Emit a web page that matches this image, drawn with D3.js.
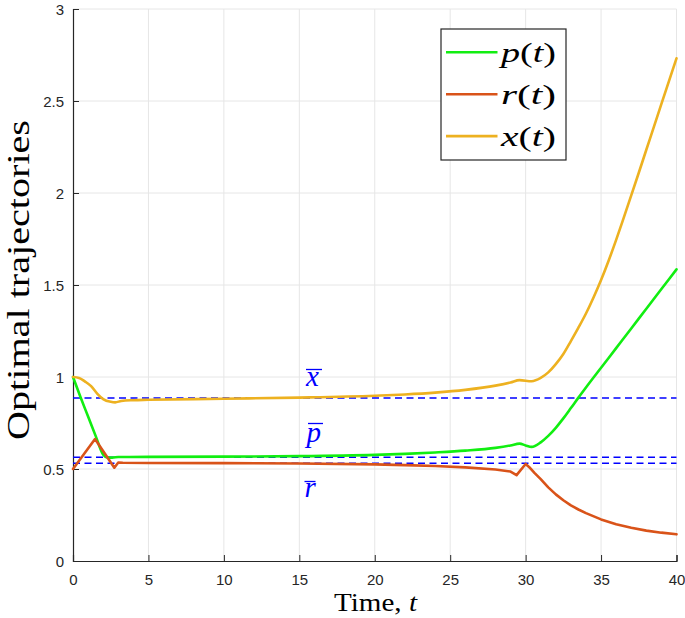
<!DOCTYPE html>
<html>
<head>
<meta charset="utf-8">
<script src="https://cdn.jsdelivr.net/npm/d3@7"></script>
<style>
  html, body { margin: 0; padding: 0; background: #fff; }
  svg { display: block; }
</style>
</head>
<body>
<svg id="chart" width="685" height="618"></svg>
<script>
// ---------- data ----------
const xTicks = [0, 5, 10, 15, 20, 25, 30, 35, 40];
const yTicks = [0, 0.5, 1, 1.5, 2, 2.5, 3];
const yTickLabels = ["0", "0.5", "1", "1.5", "2", "2.5", "3"];

const pT = [0, 0.5, 1, 1.5, 2, 2.3, 2.6, 3, 5, 10, 15, 20, 22, 24, 26, 28, 29, 29.6, 30, 30.4, 31, 31.5, 32, 32.5, 33, 33.5, 34, 35, 36, 37, 38, 39, 40];
const pV = [1.0, 0.89, 0.785, 0.68, 0.578, 0.562, 0.562, 0.565, 0.566, 0.567, 0.57, 0.577, 0.582, 0.59, 0.6, 0.615, 0.628, 0.638, 0.628, 0.62, 0.645, 0.68, 0.724, 0.775, 0.831, 0.888, 0.943, 1.05, 1.157, 1.264, 1.371, 1.478, 1.585];

const rT = [0, 1.46, 2.74, 3.0, 3.3, 5, 10, 15, 20, 22, 24, 26, 28, 29, 29.4, 30, 30.3, 30.6, 31, 31.5, 32, 32.5, 33, 33.5, 34, 35, 36, 37, 38, 39, 40];
const rV = [0.5, 0.663, 0.507, 0.535, 0.534, 0.533, 0.532, 0.53, 0.525, 0.521, 0.516, 0.509, 0.497, 0.486, 0.467, 0.527, 0.505, 0.478, 0.445, 0.40, 0.362, 0.33, 0.302, 0.28, 0.26, 0.226, 0.2, 0.181, 0.165, 0.154, 0.145];

const xT = [0, 0.4, 0.8, 1.2, 1.6, 2, 2.5, 2.8, 3.2, 4, 5, 10, 15, 20, 22, 24, 26, 28, 29, 29.6, 30.4, 31, 31.5, 32, 32.5, 33, 33.5, 34, 34.5, 35, 35.5, 36, 36.5, 37, 37.5, 38, 38.5, 39, 39.5, 40];
const xV = [1.0, 0.995, 0.975, 0.95, 0.91, 0.88, 0.865, 0.862, 0.87, 0.874, 0.876, 0.882, 0.888, 0.898, 0.905, 0.915, 0.93, 0.953, 0.97, 0.983, 0.977, 0.995, 1.025, 1.07, 1.125, 1.195, 1.268, 1.345, 1.432, 1.527, 1.632, 1.745, 1.865, 1.987, 2.11, 2.235, 2.359, 2.484, 2.608, 2.732];

const steadyNames = ["x", "p", "r"];
const steadyValues = [0.886, 0.564, 0.531];

const seriesNames = ["p", "r", "x"];
const seriesColors = ["#11ee11", "#D95319", "#EDB120"];

// ---------- layout ----------
const svg = d3.select("#chart");
const x = d3.scaleLinear().domain([0, 40]).range([73, 676.5]);
const y = d3.scaleLinear().domain([0, 3]).range([561, 9]);
const axisColor = "#262626";
const gridColor = "#e6e6e6";

// grid
svg.append("g").selectAll("line").data(xTicks.filter(d => d > 0)).join("line")
  .attr("x1", d => x(d)).attr("x2", d => x(d))
  .attr("y1", y(0)).attr("y2", y(3))
  .attr("stroke", gridColor).attr("stroke-width", 1);
svg.append("g").selectAll("line").data(yTicks.filter(d => d > 0)).join("line")
  .attr("x1", x(0)).attr("x2", x(40))
  .attr("y1", d => y(d)).attr("y2", d => y(d))
  .attr("stroke", gridColor).attr("stroke-width", 1);

// axes
const xAxis = d3.axisBottom(x).tickValues(xTicks).tickSize(-6).tickPadding(13).tickFormat(d3.format("d"));
const yAxis = d3.axisLeft(y).tickValues(yTicks).tickSize(-6).tickPadding(9).tickFormat((d, i) => yTickLabels[i]);

const gx = svg.append("g").attr("transform", `translate(0,${y(0)})`).call(xAxis);
const gy = svg.append("g").attr("transform", `translate(${x(0)},0)`).call(yAxis);
[gx, gy].forEach(g => {
  g.select(".domain").attr("stroke", axisColor).attr("stroke-width", 1.2);
  g.selectAll(".tick line").attr("stroke", axisColor).attr("stroke-width", 1);
  g.selectAll(".tick text").attr("fill", axisColor)
    .style("font-family", "'Liberation Sans', Arial, sans-serif").style("font-size", "15px");
});
gy.selectAll(".tick text").attr("dy", "0.35em");

// steady-state dashed lines
svg.append("g").selectAll("line").data(steadyValues).join("line")
  .attr("x1", x(0)).attr("x2", x(40))
  .attr("y1", d => y(d)).attr("y2", d => y(d))
  .attr("stroke", "#0000ff").attr("stroke-width", 1.5)
  .attr("stroke-dasharray", "7,4.5");

// series
const series = [
  { t: pT, v: pV, curve: d3.curveMonotoneX },
  { t: rT, v: rV, curve: d3.curveLinear },
  { t: xT, v: xV, curve: d3.curveMonotoneX }
];
series.forEach((s, i) => {
  const pts = s.t.map((t, j) => [t, s.v[j]]);
  svg.append("path").datum(pts)
    .attr("fill", "none").attr("stroke", seriesColors[i]).attr("stroke-width", 2.6)
    .attr("stroke-linejoin", "round").attr("stroke-linecap", "round")
    .attr("d", d3.line().x(d => x(d[0])).y(d => y(d[1])).curve(s.curve));
});

// bar labels
const serif = "'Liberation Serif', 'Times New Roman', serif";
const barLabels = [
  { name: "x", tx: 306, ty: 385.5, bx1: 306, bx2: 322, by: 369.5 },
  { name: "p", tx: 306.5, ty: 442, bx1: 308, bx2: 323, by: 423.5 },
  { name: "r", tx: 304.5, ty: 497, bx1: 304.5, bx2: 315.5, by: 481.5 }
];
barLabels.forEach(b => {
  svg.append("text").attr("x", b.tx).attr("y", b.ty)
    .attr("fill", "#0000ff").style("font-family", serif).style("font-style", "italic")
    .style("font-size", "29px").text(b.name);
  svg.append("line").attr("x1", b.bx1).attr("x2", b.bx2).attr("y1", b.by).attr("y2", b.by)
    .attr("stroke", "#0000ff").attr("stroke-width", 1.3);
});

// legend
const lg = svg.append("g");
lg.append("rect").attr("x", 441).attr("y", 29).attr("width", 125).attr("height", 131)
  .attr("fill", "#fff").attr("stroke", axisColor).attr("stroke-width", 1.2);
seriesNames.forEach((n, i) => {
  const ly = 52.3 + i * 41.9;
  lg.append("line").attr("x1", 446).attr("x2", 497.5).attr("y1", ly).attr("y2", ly)
    .attr("stroke", seriesColors[i]).attr("stroke-width", 2.6);
  const t = lg.append("text").attr("x", 501).attr("y", ly + 10)
    .attr("fill", "#000").style("font-family", serif).style("font-size", "28px")
    .attr("textLength", 55).attr("lengthAdjust", "spacingAndGlyphs");
  t.append("tspan").style("font-style", "italic").text(n);
  t.append("tspan").text("(");
  t.append("tspan").style("font-style", "italic").text("t");
  t.append("tspan").text(")");
});

// axis titles
const xl = svg.append("text").attr("x", 334).attr("y", 611)
  .attr("fill", "#000").style("font-family", serif).style("font-size", "25px")
  .attr("textLength", 83).attr("lengthAdjust", "spacingAndGlyphs");
xl.append("tspan").text("Time, ");
xl.append("tspan").style("font-style", "italic").text("t");

svg.append("text").attr("transform", "translate(28.5,440) rotate(-90)")
  .attr("x", 0).attr("y", 0)
  .attr("fill", "#000").style("font-family", serif).style("font-size", "31px")
  .attr("textLength", 320).attr("lengthAdjust", "spacingAndGlyphs")
  .text("Optimal trajectories");
</script>
</body>
</html>
